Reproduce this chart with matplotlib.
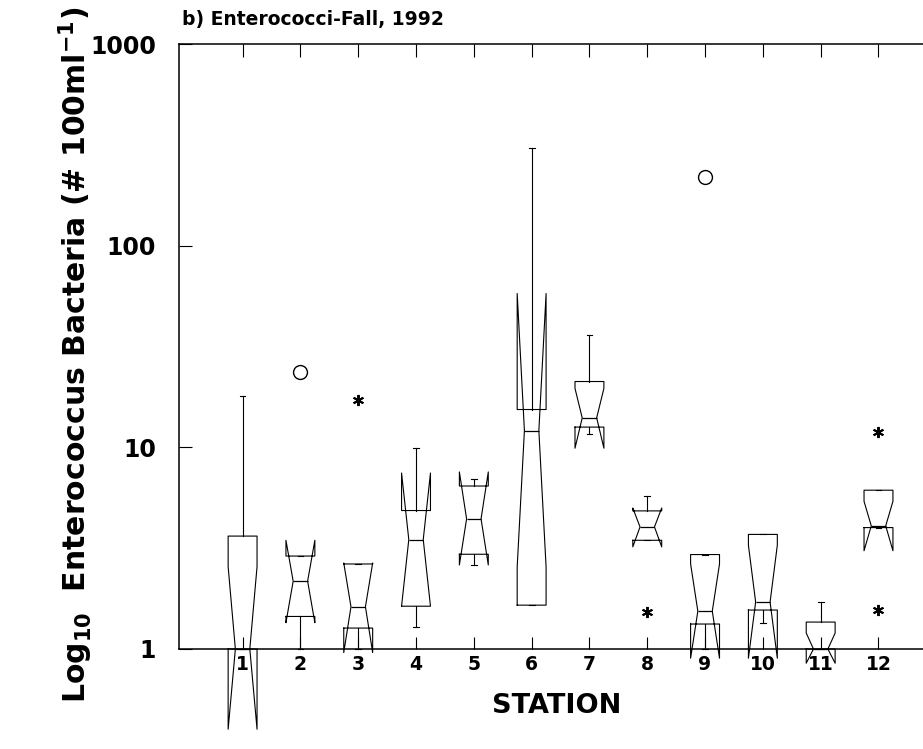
import matplotlib
matplotlib.use("Agg")
import matplotlib.pyplot as plt
from matplotlib.ticker import NullLocator

# Enterococci counts (# per 100 ml), fall 1992, box summaries per station
stations = [1, 2, 3, 4, 5, 6, 7, 8, 9, 10, 11, 12]
q1 = [1.00, 1.45, 1.27, 1.63, 2.95, 1.65, 12.6, 3.46, 1.33, 1.56, 1.00, 4.00]
med = [1.00, 2.17, 1.62, 3.49, 4.42, 12.1, 14.0, 4.03, 1.54, 1.71, 1.00, 4.08]
q3 = [3.63, 2.89, 2.64, 4.86, 6.43, 15.4, 21.2, 4.84, 2.94, 3.70, 1.36, 6.13]
cilo = [0.40, 1.35, 0.96, 1.63, 2.61, 2.55, 9.9, 3.21, 0.90, 0.90, 0.85, 3.07]
cihi = [2.56, 3.46, 2.67, 7.46, 7.55, 57.9, 19.6, 5.00, 2.64, 3.27, 1.20, 5.40]
whislo = [1.00, 1.00, 1.00, 1.29, 2.61, 1.65, 11.7, 3.46, 1.00, 1.34, 1.00, 4.00]
whishi = [17.9, 2.89, 2.64, 9.93, 6.94, 305.0, 35.9, 5.72, 2.94, 3.70, 1.71, 6.13]

# outside values (*) and far outside values (o)
outside_st = [3, 8, 12, 12]
outside_val = [17.2, 1.52, 11.9, 1.56]
far_st = [2, 9]
far_val = [23.6, 220.0]

plt.rcParams['font.family'] = ['DejaVu Sans']
plt.rcParams['font.weight'] = 'bold'
plt.rcParams['axes.labelweight'] = 'bold'
plt.rcParams['mathtext.default'] = 'bf'

fig = plt.figure(figsize=(9.23, 7.49), dpi=100)
ax = fig.add_axes([179 / 923, 1 - 649 / 749, (923 - 179) / 923, 605 / 749])
ax.set_yscale('log')

stats = []
for i in range(len(stations)):
    stats.append(dict(med=med[i], q1=q1[i], q3=q3[i], cilo=cilo[i], cihi=cihi[i],
                      whislo=whislo[i], whishi=whishi[i], fliers=[]))

lineprops = dict(color='k', linewidth=0.8)
art = ax.bxp(stats, positions=stations, widths=0.5, shownotches=True,
             showfliers=False, capwidths=0.1, manage_ticks=False,
             boxprops=lineprops, whiskerprops=lineprops, capprops=lineprops,
             medianprops=dict(color='k', linewidth=0.9))
for group in art.values():
    for a in group:
        a.set_clip_on(False)

ax.plot(outside_st, outside_val, ls='none', marker=(6, 2, 0), ms=8, mew=1.4,
        color='k', clip_on=False)
ax.plot(far_st, far_val, ls='none', marker='o', ms=10, mfc='none', mec='k',
        mew=1.0, clip_on=False)

ax.set_ylim(1, 1000)
ax.set_xlim(-0.1, 12.77)
ax.set_yticks([1, 10, 100, 1000])
ax.set_yticklabels(['1', '10', '100', '1000'])
ax.yaxis.set_minor_locator(NullLocator())
ax.set_xticks(stations)
ax.set_xticklabels([str(s) for s in stations])

ax.tick_params(axis='y', direction='in', length=9, width=0.8, pad=16.5, labelsize=17)
ax.tick_params(axis='x', direction='in', length=9, width=0.8, top=True, pad=4,
               labelsize=13.5)
ax.spines['right'].set_visible(False)
for side in ['left', 'bottom', 'top']:
    ax.spines[side].set_linewidth(1.1)

ax.set_xlabel('STATION', fontsize=19.5, fontweight='bold')
ax.xaxis.set_label_coords(0.508, -0.073)
ax.set_ylabel('Log$_{10}$  Enterococcus Bacteria (# 100ml$^{-1}$)', fontsize=21.5,
              fontweight='bold', va='center')
ax.yaxis.set_label_coords((76 - 179) / 744, (649 - 355) / 605)

fig.text(182 / 923, 1 - 25 / 749, 'b) Enterococci-Fall, 1992', fontsize=13.5,
         ha='left', va='baseline')

fig.savefig('out.png', dpi=100)
